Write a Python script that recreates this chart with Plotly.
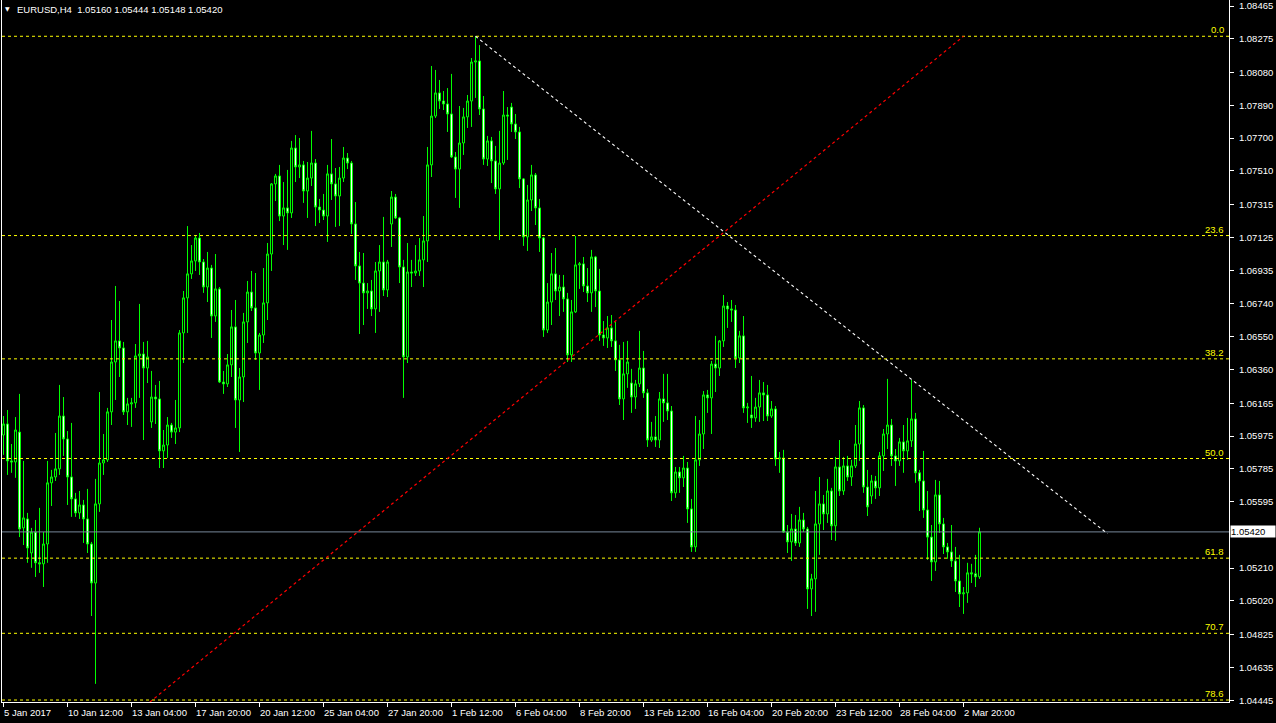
import plotly.graph_objects as go

symbol_title = "EURUSD,H4  1.05160 1.05444 1.05148 1.05420"

opens = [1.05981,1.06045,1.05831,1.05825,1.05998,1.05443,1.05495,1.05298,1.05419,1.05241,
1.05235,1.05350,1.05704,1.05738,1.05785,1.06091,1.05958,1.05738,1.05611,1.05530,
1.05576,1.05495,1.05350,1.05124,1.05582,1.05819,1.05837,1.06115,1.06404,1.06526,
1.06485,1.06115,1.06161,1.06167,1.06439,1.06450,1.06369,1.06057,1.06201,1.06190,
1.05889,1.05923,1.06039,1.05998,1.06022,1.06572,1.06775,1.06914,1.06989,1.07122,
1.06983,1.06838,1.06948,1.06670,1.06827,1.06288,1.06277,1.06387,1.06607,1.06184,
1.06317,1.06636,1.06809,1.06717,1.06456,1.06560,1.06746,1.07029,1.07435,1.07481,
1.07249,1.07296,1.07267,1.07643,1.07533,1.07545,1.07394,1.07469,1.07556,1.07301,
1.07284,1.07249,1.07493,1.07435,1.07365,1.07469,1.07585,1.07556,1.07203,1.06960,
1.06861,1.06804,1.06815,1.06711,1.06931,1.06983,1.06821,1.07203,1.07359,1.07238,
1.06954,1.06433,1.06925,1.06919,1.06931,1.06995,1.07105,1.07545,1.07828,1.07962,
1.07915,1.07898,1.07840,1.07591,1.07521,1.07672,1.07823,1.07915,1.08141,1.08147,
1.07869,1.07579,1.07684,1.07568,1.07406,1.07556,1.07834,1.07880,1.07782,1.07736,
1.07464,1.07128,1.07342,1.07487,1.07296,1.07122,1.06589,1.06751,1.06914,1.06815,
1.06838,1.06769,1.06445,1.06694,1.06966,1.06972,1.06844,1.06804,1.07012,1.06815,
1.06560,1.06543,1.06601,1.06526,1.06416,1.06190,1.06335,1.06282,1.06201,1.06277,
1.06369,1.06225,1.05952,1.05970,1.05952,1.06190,1.06167,1.06120,1.05646,1.05767,
1.05733,1.05790,1.05553,1.05333,1.05837,1.05987,1.06213,1.06196,1.06392,1.06369,
1.06526,1.06728,1.06711,1.06705,1.06427,1.06555,1.06138,1.06097,1.06080,1.06143,
1.06225,1.06213,1.06091,1.06132,1.05842,1.05848,1.05419,1.05362,1.05437,1.05356,
1.05489,1.05437,1.05090,1.05148,1.05466,1.05582,1.05524,1.05657,1.05455,1.05796,
1.05657,1.05802,1.05738,1.05802,1.05929,1.06138,1.05680,1.05628,1.05715,1.05675,
1.05860,1.05987,1.06039,1.05860,1.05831,1.05941,1.05889,1.05947,1.06074,1.05762,
1.05715,1.05547,1.05390,1.05246,1.05634,1.05466,1.05333,1.05304,1.05252,1.05136,
1.05061,1.05067,1.05183,1.05177,1.05160]

highs = [1.06091,1.06126,1.05929,1.06085,1.06219,1.05831,1.05530,1.05443,1.05489,1.05559,
1.05419,1.05831,1.05779,1.05993,1.06271,1.06201,1.06004,1.06051,1.05646,1.05657,
1.05605,1.05669,1.05362,1.05727,1.06230,1.05987,1.06138,1.06647,1.06844,1.06757,
1.06520,1.06196,1.06196,1.06508,1.06740,1.06520,1.06526,1.06352,1.06271,1.06294,
1.06010,1.06085,1.06051,1.06184,1.06589,1.06815,1.07191,1.07081,1.07139,1.07151,
1.07000,1.07041,1.06966,1.07029,1.06838,1.06352,1.06450,1.06705,1.06763,1.06369,
1.06688,1.06873,1.06931,1.06919,1.06572,1.06948,1.07093,1.07440,1.07493,1.07545,
1.07446,1.07516,1.07684,1.07718,1.07701,1.07568,1.07562,1.07742,1.07579,1.07348,
1.07377,1.07545,1.07695,1.07527,1.07533,1.07649,1.07614,1.07568,1.07330,1.07041,
1.07035,1.06861,1.06879,1.06983,1.07081,1.07244,1.06995,1.07394,1.07377,1.07244,
1.06995,1.07093,1.06995,1.07081,1.07122,1.07249,1.07649,1.08118,1.08095,1.08037,
1.07973,1.07990,1.08072,1.07620,1.07886,1.07875,1.07950,1.08164,1.08290,1.08239,
1.07944,1.07713,1.07707,1.07655,1.07742,1.07973,1.07880,1.07904,1.07840,1.07765,
1.07469,1.07429,1.07545,1.07498,1.07348,1.07128,1.06861,1.07035,1.07064,1.06908,
1.06908,1.06804,1.06763,1.07134,1.06983,1.07012,1.06948,1.07053,1.07018,1.06943,
1.06641,1.06670,1.06676,1.06636,1.06503,1.06520,1.06526,1.06364,1.06300,1.06584,
1.06468,1.06248,1.06057,1.06091,1.06230,1.06335,1.06335,1.06149,1.05796,1.05796,
1.05860,1.05825,1.05611,1.06091,1.06068,1.06236,1.06242,1.06410,1.06555,1.06531,
1.06792,1.06751,1.06763,1.06734,1.06584,1.06670,1.06167,1.06323,1.06196,1.06300,
1.06288,1.06271,1.06178,1.06149,1.05883,1.05895,1.05460,1.05524,1.05518,1.05565,
1.05530,1.05449,1.05177,1.05657,1.05738,1.05634,1.05727,1.05675,1.05854,1.05952,
1.05854,1.05860,1.05837,1.06039,1.06178,1.06155,1.05779,1.05750,1.05744,1.05883,
1.06016,1.06306,1.06074,1.05900,1.05964,1.06039,1.06080,1.06300,1.06109,1.05779,
1.05889,1.05657,1.05460,1.05721,1.05715,1.05501,1.05356,1.05460,1.05333,1.05287,
1.05101,1.05241,1.05235,1.05287,1.05444]

lows = [1.05866,1.05750,1.05762,1.05733,1.05390,1.05344,1.05241,1.05212,1.05159,1.05183,
1.05101,1.05241,1.05570,1.05715,1.05750,1.05860,1.05576,1.05507,1.05507,1.05495,
1.05356,1.05298,1.04933,1.04540,1.05536,1.05750,1.05825,1.06039,1.06184,1.06317,
1.06097,1.06039,1.06028,1.06138,1.06196,1.05952,1.06282,1.06022,1.06045,1.05790,
1.05790,1.05848,1.05964,1.05929,1.05998,1.06398,1.06572,1.06885,1.06931,1.06908,
1.06804,1.06751,1.06543,1.06636,1.06282,1.06219,1.06259,1.06317,1.06022,1.05883,
1.06172,1.06514,1.06699,1.06416,1.06242,1.06514,1.06647,1.06931,1.07336,1.07220,
1.07081,1.07053,1.07238,1.07446,1.07469,1.07325,1.07238,1.07423,1.07191,1.07209,
1.07226,1.07099,1.07342,1.07186,1.07191,1.07446,1.07521,1.07145,1.06879,1.06566,
1.06618,1.06711,1.06670,1.06572,1.06694,1.06786,1.06780,1.07070,1.07232,1.06861,
1.06196,1.06398,1.06838,1.06902,1.06902,1.06838,1.06983,1.07475,1.07817,1.07869,
1.07863,1.07736,1.07585,1.07354,1.07296,1.07603,1.07759,1.07765,1.07933,1.07834,
1.07545,1.07539,1.07440,1.07377,1.07110,1.07545,1.07574,1.07736,1.07695,1.07411,
1.07076,1.07047,1.07278,1.07197,1.07041,1.06549,1.06572,1.06618,1.06763,1.06670,
1.06694,1.06404,1.06404,1.06688,1.06827,1.06809,1.06751,1.06694,1.06722,1.06526,
1.06497,1.06485,1.06491,1.06352,1.06155,1.06068,1.06254,1.06109,1.06132,1.06259,
1.06196,1.05912,1.05941,1.05912,1.05906,1.06057,1.06068,1.05599,1.05617,1.05646,
1.05680,1.05472,1.05304,1.05304,1.05802,1.05900,1.06109,1.05987,1.06230,1.06323,
1.06491,1.06601,1.06636,1.06369,1.06398,1.06109,1.06051,1.06022,1.06057,1.06057,
1.06062,1.06062,1.06080,1.05802,1.05762,1.05414,1.05298,1.05252,1.05339,1.05333,
1.05419,1.04974,1.04933,1.04957,1.05287,1.05431,1.05472,1.05373,1.05368,1.05628,
1.05634,1.05715,1.05686,1.05790,1.05831,1.05646,1.05512,1.05582,1.05611,1.05628,
1.05773,1.05900,1.05802,1.05686,1.05802,1.05762,1.05837,1.05912,1.05704,1.05541,
1.05501,1.05258,1.05136,1.05194,1.05414,1.05292,1.05264,1.05217,1.05072,1.04985,
1.04945,1.05009,1.05124,1.05101,1.05148]

closes = [1.06045,1.05831,1.05825,1.06010,1.05437,1.05501,1.05327,1.05419,1.05241,1.05235,
1.05350,1.05704,1.05738,1.05785,1.06091,1.05958,1.05738,1.05611,1.05530,1.05576,
1.05495,1.05350,1.05124,1.05582,1.05819,1.05837,1.06115,1.06404,1.06526,1.06485,
1.06115,1.06161,1.06167,1.06439,1.06450,1.06369,1.06433,1.06201,1.06190,1.05889,
1.05923,1.06039,1.05998,1.06022,1.06572,1.06775,1.06914,1.06989,1.07122,1.06983,
1.06838,1.06948,1.06670,1.06827,1.06288,1.06277,1.06387,1.06607,1.06184,1.06317,
1.06636,1.06809,1.06717,1.06456,1.06560,1.06746,1.07029,1.07435,1.07481,1.07249,
1.07296,1.07267,1.07643,1.07533,1.07545,1.07394,1.07469,1.07556,1.07301,1.07284,
1.07249,1.07493,1.07435,1.07365,1.07469,1.07585,1.07556,1.07203,1.06960,1.06861,
1.06804,1.06815,1.06711,1.06931,1.06983,1.06821,1.06983,1.07359,1.07238,1.06954,
1.06433,1.06925,1.06919,1.06931,1.06995,1.07105,1.07545,1.07828,1.07962,1.07915,
1.07898,1.07840,1.07591,1.07521,1.07672,1.07823,1.07915,1.08141,1.08147,1.07869,
1.07579,1.07684,1.07568,1.07406,1.07556,1.07834,1.07828,1.07782,1.07736,1.07464,
1.07128,1.07342,1.07487,1.07296,1.07122,1.06589,1.06751,1.06914,1.06815,1.06838,
1.06769,1.06445,1.06694,1.06966,1.06972,1.06844,1.06804,1.07012,1.06815,1.06560,
1.06543,1.06601,1.06526,1.06416,1.06190,1.06335,1.06404,1.06201,1.06277,1.06369,
1.06225,1.05952,1.05970,1.05952,1.06190,1.06167,1.06120,1.05646,1.05767,1.05733,
1.05790,1.05553,1.05333,1.05837,1.05987,1.06213,1.06196,1.06392,1.06369,1.06526,
1.06728,1.06711,1.06705,1.06427,1.06555,1.06138,1.06143,1.06080,1.06143,1.06225,
1.06213,1.06091,1.06132,1.05842,1.05848,1.05419,1.05362,1.05437,1.05356,1.05489,
1.05437,1.05090,1.05148,1.05466,1.05582,1.05524,1.05657,1.05455,1.05796,1.05657,
1.05802,1.05738,1.05802,1.05929,1.06138,1.05680,1.05565,1.05715,1.05675,1.05860,
1.05987,1.06039,1.05860,1.05831,1.05941,1.05889,1.05947,1.06074,1.05762,1.05715,
1.05547,1.05390,1.05246,1.05634,1.05466,1.05333,1.05304,1.05252,1.05136,1.05061,
1.05067,1.05183,1.05177,1.05160,1.05420]

time_tick_bars = [0, 16, 32, 48, 64, 80, 96, 112, 128, 144, 160, 176, 192, 208, 224, 240]
time_tick_labels = ["5 Jan 2017", "10 Jan 12:00", "13 Jan 04:00", "17 Jan 20:00",
                    "20 Jan 12:00", "25 Jan 04:00", "27 Jan 20:00", "1 Feb 12:00",
                    "6 Feb 04:00", "8 Feb 20:00", "13 Feb 12:00", "16 Feb 04:00",
                    "20 Feb 20:00", "23 Feb 12:00", "28 Feb 04:00", "2 Mar 20:00"]

price_ticks = [1.08465, 1.08275, 1.08080, 1.07890, 1.07700, 1.07510, 1.07315, 1.07125,
               1.06935, 1.06740, 1.06550, 1.06360, 1.06165, 1.05975, 1.05785, 1.05595,
               1.05210, 1.05020, 1.04825, 1.04635, 1.04445]

fib_high = 1.0829
fib_low = 1.0340
fib_high_bar = 240
fib_low_bar = -18
fib_levels = [0.0, 23.6, 38.2, 50.0, 61.8, 70.7, 78.6]

trend_start = (118, 1.0829)
trend_end = (276, 1.0541)

x_range = [-0.375, 306.375]
y_range = [1.04435, 1.0850]

bars = list(range(len(closes)))

fig = go.Figure()
fig.add_trace(go.Candlestick(
    x=bars, open=opens, high=highs, low=lows, close=closes,
    increasing=dict(line=dict(color="#00ff00", width=1), fillcolor="#000000"),
    decreasing=dict(line=dict(color="#00ff00", width=1), fillcolor="#ffffff"),
    whiskerwidth=0, showlegend=False, hoverinfo="skip"))

shapes = []
annotations = []
fib_yellow = "#ffff00"
for lvl in fib_levels:
    p = fib_high - (fib_high - fib_low) * lvl / 100.0
    shapes.append(dict(type="line", xref="paper", yref="y", x0=0, x1=1, y0=p, y1=p,
                       line=dict(color=fib_yellow, width=1, dash="3px,3px"), layer="above"))
    annotations.append(dict(xref="paper", yref="y", x=1, y=p, text=f"{lvl:.1f}",
                            showarrow=False, xanchor="right", yanchor="bottom",
                            xshift=-3, yshift=-1,
                            font=dict(family="Liberation Sans", size=9.5, color=fib_yellow)))

last_price = closes[-1]
shapes.append(dict(type="line", xref="paper", yref="y", x0=0, x1=1, y0=last_price, y1=last_price,
                   line=dict(color="#778899", width=1), layer="above"))
shapes.append(dict(type="line", xref="x", yref="y", x0=fib_low_bar, y0=fib_low,
                   x1=fib_high_bar, y1=fib_high,
                   line=dict(color="#ff0000", width=1.2, dash="3px,3px"), layer="above"))
shapes.append(dict(type="line", xref="x", yref="y", x0=trend_start[0], y0=trend_start[1],
                   x1=trend_end[0], y1=trend_end[1],
                   line=dict(color="#ffffff", width=1.1, dash="3px,3px"), layer="above"))

annotations.append(dict(xref="paper", yref="y", x=1, y=last_price, text=f"{last_price:.5f}",
                        showarrow=False, xanchor="left", yanchor="middle", xshift=1,
                        width=44, align="left",
                        bgcolor="#ffffff", borderpad=0,
                        font=dict(family="Liberation Sans", size=9.5, color="#000000")))

for b, lab in zip(time_tick_bars, time_tick_labels):
    annotations.append(dict(xref="x", yref="paper", x=b, y=0, text=lab, showarrow=False,
                            xanchor="left", yanchor="top", xshift=-2, yshift=-3,
                            font=dict(family="Liberation Sans", size=9.5, color="#ffffff")))

annotations.append(dict(xref="paper", yref="paper", x=0, y=1, text="▼", showarrow=False,
                        xanchor="left", yanchor="top", xshift=1, yshift=-3,
                        font=dict(family="DejaVu Sans", size=6, color="#ffffff")))
annotations.append(dict(xref="paper", yref="paper", x=0, y=1, text=symbol_title, showarrow=False,
                        xanchor="left", yanchor="top", xshift=13, yshift=-2,
                        font=dict(family="Liberation Sans", size=9.5, color="#ffffff")))

fig.update_layout(
    width=1276, height=723,
    paper_bgcolor="#000000", plot_bgcolor="#000000",
    margin=dict(l=2, r=47, t=0, b=21),
    showlegend=False,
    shapes=shapes, annotations=annotations,
    xaxis=dict(range=x_range, rangeslider=dict(visible=False), showgrid=False, zeroline=False,
               tickmode="array", tickvals=time_tick_bars, showticklabels=False,
               ticks="outside", ticklen=4, tickcolor="#ffffff",
               showline=True, linecolor="#ffffff", linewidth=1),
    yaxis=dict(range=y_range, side="right", showgrid=False, zeroline=False,
               tickmode="array", tickvals=price_ticks,
               ticktext=[f"{v:.5f}" for v in price_ticks],
               ticks="outside", ticklen=4, tickcolor="#ffffff", ticklabelstandoff=3,
               tickfont=dict(family="Liberation Sans", size=9.5, color="#ffffff"),
               showline=True, mirror=True, linecolor="#ffffff", linewidth=1),
)

fig.write_html("out.html", config={"displayModeBar": False},
               post_script="document.body.style.margin='0';")
